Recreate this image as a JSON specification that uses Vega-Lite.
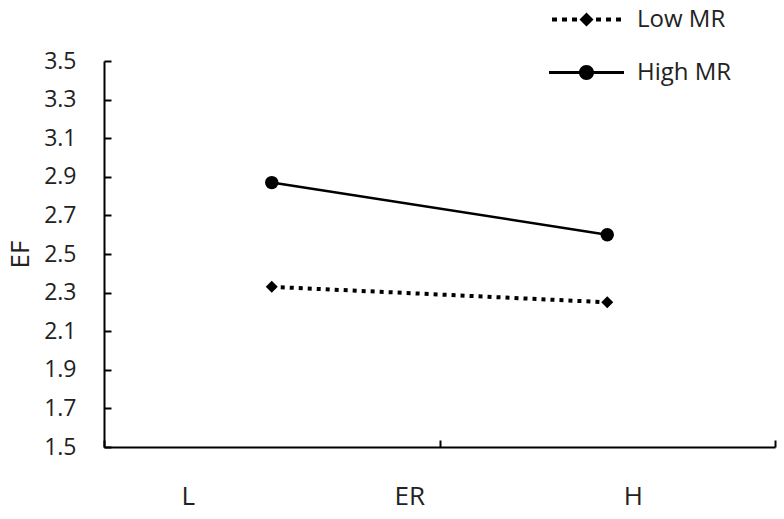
{
  "$schema": "https://vega.github.io/schema/vega-lite/v6.json",
  "width": 671,
  "height": 386,
  "autosize": {"type": "none"},
  "padding": {"left": 104, "top": 61, "right": 9, "bottom": 72},
  "background": "white",
  "config": {
    "view": {"stroke": null},
    "font": "Open Sans",
    "axis": {"grid": false, "domainColor": "black", "tickColor": "black", "labelColor": "#222", "titleColor": "#222", "domainWidth": 2, "tickWidth": 2}
  },
  "data": {
    "values": [
      {"group": "Low MR", "level": "L", "x": 0.5, "ef": 2.33},
      {"group": "Low MR", "level": "H", "x": 1.5, "ef": 2.25},
      {"group": "High MR", "level": "L", "x": 0.5, "ef": 2.87},
      {"group": "High MR", "level": "H", "x": 1.5, "ef": 2.6}
    ]
  },
  "encoding": {
    "x": {
      "field": "x",
      "type": "quantitative",
      "scale": {"domain": [0, 2], "nice": false, "zero": false},
      "axis": {
        "title": null,
        "values": [0, 0.25, 0.91, 1, 1.576, 2],
        "labelExpr": "datum.value == 0.25 ? 'L' : datum.value == 0.91 ? 'ER' : datum.value == 1.576 ? 'H' : ''",
        "tickOpacity": {"condition": {"test": "datum.value == 0 || datum.value == 1 || datum.value == 2", "value": 1}, "value": 0},
        "tickSize": -7,
        "labelFontSize": 26,
        "labelPadding": 43,
        "labelFlush": false,
        "labelOverlap": false
      }
    },
    "y": {
      "field": "ef",
      "type": "quantitative",
      "scale": {"domain": [1.5, 3.5], "nice": false, "zero": false},
      "axis": {
        "title": "EF",
        "values": [1.5, 1.7, 1.9, 2.1, 2.3, 2.5, 2.7, 2.9, 3.1, 3.3, 3.5],
        "format": ".1f",
        "tickSize": -7,
        "labelFontSize": 23,
        "labelPadding": 35,
        "titleFontSize": 26,
        "titleFontWeight": "normal",
        "titlePadding": 10
      }
    }
  },
  "layer": [
    {
      "transform": [{"filter": "datum.group === 'Low MR'"}],
      "mark": {"type": "line", "color": "black", "strokeWidth": 4, "strokeDash": [4, 5]}
    },
    {
      "transform": [{"filter": "datum.group === 'High MR'"}],
      "mark": {"type": "line", "color": "black", "strokeWidth": 2.5}
    },
    {
      "transform": [{"filter": "datum.group === 'Low MR'"}],
      "mark": {"type": "point", "shape": "diamond", "size": 144, "filled": true, "color": "black", "opacity": 1}
    },
    {
      "transform": [{"filter": "datum.group === 'High MR'"}],
      "mark": {"type": "point", "shape": "circle", "size": 180, "filled": true, "color": "black", "opacity": 1}
    },
    {
      "transform": [{"filter": "false"}],
      "mark": {"type": "point", "filled": true, "color": "black", "opacity": 1},
      "encoding": {
        "shape": {
          "field": "group",
          "type": "nominal",
          "scale": {
            "domain": ["Low MR", "High MR"],
            "range": [
              "M-2.76,-0.16L-2.36,-0.16L-2.36,0.16L-2.76,0.16ZM-1.96,-0.16L-1.56,-0.16L-1.56,0.16L-1.96,0.16ZM-1.16,-0.16L-0.76,-0.16L-0.76,0.16L-1.16,0.16ZM0.76,-0.16L1.16,-0.16L1.16,0.16L0.76,0.16ZM1.56,-0.16L1.96,-0.16L1.96,0.16L1.56,0.16ZM2.36,-0.16L2.76,-0.16L2.76,0.16L2.36,0.16ZM-0.56,0L0,-0.56L0.56,0L0,0.56Z",
              "M-3,-0.12L3,-0.12L3,0.12L-3,0.12ZM-0.6,0A0.6,0.6,0,1,1,0.6,0A0.6,0.6,0,1,1,-0.6,0Z"
            ]
          },
          "legend": {
            "title": null,
            "orient": "none",
            "legendX": 469,
            "legendY": -55,
            "padding": 0,
            "symbolSize": 625,
            "symbolOpacity": 1,
            "symbolFillColor": "black",
            "labelFontSize": 24,
            "labelColor": "#222",
            "labelOffset": 37,
            "rowPadding": 27
          }
        }
      }
    }
  ]
}
